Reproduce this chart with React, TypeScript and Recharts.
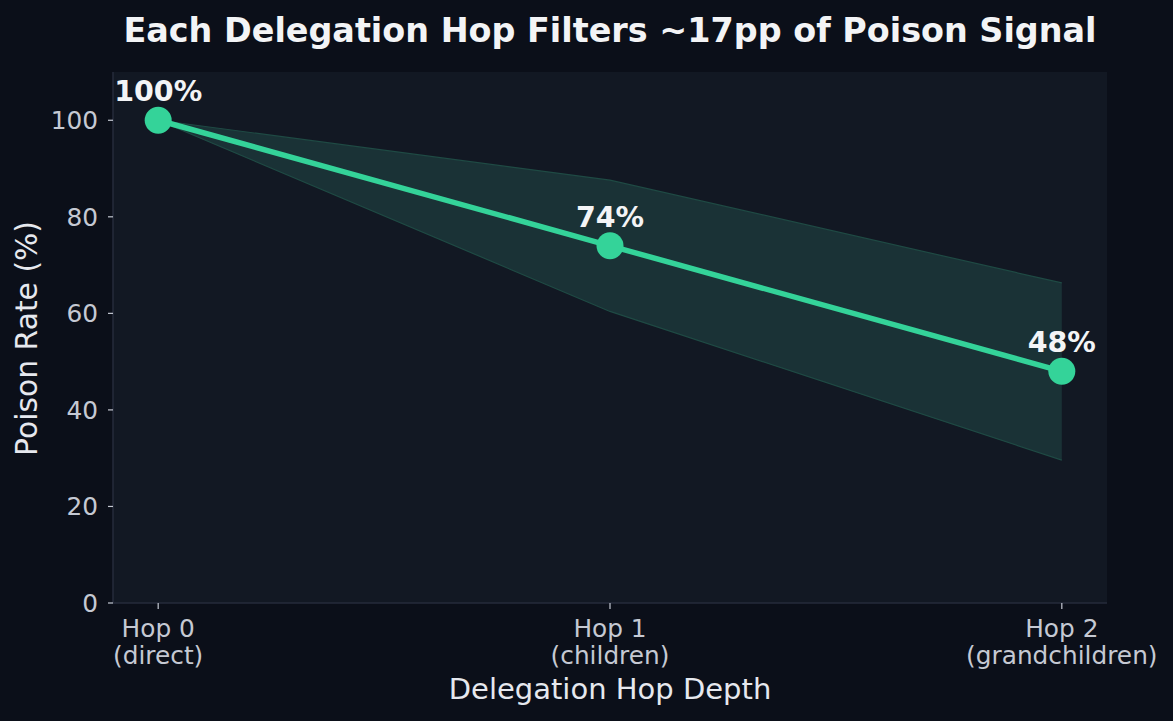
import React from 'react';
import {
  ComposedChart,
  Line,
  Area,
  XAxis,
  YAxis,
  CartesianGrid,
  LabelList,
  Label,
} from 'recharts';

const hops = [0, 1, 2];
const hopNames = ['Hop 0', 'Hop 1', 'Hop 2'];
const hopDescs = ['(direct)', '(children)', '(grandchildren)'];
const poisonRate = [100, 74, 48];
const ciLow = [100, 60.4, 29.6];
const ciHigh = [100, 87.6, 66.3];
const yTicks = [0, 20, 40, 60, 80, 100];

const data = hops.map((h, i) => ({
  hop: h,
  rate: poisonRate[i],
  band: [ciLow[i], ciHigh[i]],
}));

const FONT = '"DejaVu Sans", sans-serif';
const BG = '#0b0f19';
const PLOT_BG = '#121823';
const GREEN = '#34d399';
const TICK_COLOR = '#c5c9d3';
const LABEL_COLOR = '#e6e8ee';

const XTick = (props: any) => {
  const { x, y, payload } = props;
  const i = hops.indexOf(payload.value);
  return (
    <text x={x} textAnchor="middle" fontFamily={FONT} fontSize={24.8} fill={TICK_COLOR}>
      <tspan x={x} y={y + 28}>{hopNames[i]}</tspan>
      <tspan x={x} y={y + 54.5}>{hopDescs[i]}</tspan>
    </text>
  );
};

const PointLabel = (props: any) => {
  const { x, y, value } = props;
  return (
    <text
      x={x}
      y={y - 19}
      textAnchor="middle"
      fontFamily={FONT}
      fontWeight="bold"
      fontSize={28.5}
      fill="#f3f4f6"
    >
      {`${value}%`}
    </text>
  );
};

export default function App() {
  return (
    <div
      style={{
        position: 'fixed',
        left: 0,
        top: 0,
        width: 1173,
        height: 721,
        background: BG,
        overflow: 'hidden',
      }}
    >
      <ComposedChart
        width={1173}
        height={721}
        data={data}
        margin={{ top: 72, right: 66, bottom: 58, left: 0 }}
      >
        <CartesianGrid fill={PLOT_BG} stroke="none" horizontal={false} vertical={false} />
        <XAxis
          type="number"
          dataKey="hop"
          domain={[-0.1, 2.1]}
          ticks={hops}
          allowDataOverflow
          height={60}
          tickSize={6}
          tickMargin={0}
          tickLine={{ stroke: TICK_COLOR, strokeWidth: 1.2 }}
          axisLine={{ stroke: '#262b3b', strokeWidth: 1.5 }}
          tick={<XTick />}
          interval={0}
        >
          <Label
            content={() => (
              <text
                x={610}
                y={699}
                textAnchor="middle"
                fontFamily={FONT}
                fontSize={29}
                fill={LABEL_COLOR}
              >
                Delegation Hop Depth
              </text>
            )}
          />
        </XAxis>
        <YAxis
          type="number"
          domain={[0, 110]}
          ticks={yTicks}
          allowDataOverflow
          width={113}
          tickSize={5}
          tickMargin={10}
          tickLine={{ stroke: TICK_COLOR, strokeWidth: 1.2 }}
          axisLine={{ stroke: '#262b3b', strokeWidth: 1.5 }}
          tick={{ fill: TICK_COLOR, fontSize: 24.8, fontFamily: FONT }}
          interval={0}
        >
          <Label
            content={() => (
              <text
                x={37}
                y={338.5}
                transform="rotate(-90, 37, 338.5)"
                textAnchor="middle"
                fontFamily={FONT}
                fontSize={29.8}
                fill={LABEL_COLOR}
              >
                Poison Rate (%)
              </text>
            )}
          />
        </YAxis>
        <Area
          type="linear"
          dataKey="band"
          fill="#1a3236"
          fillOpacity={1}
          stroke="#1f4a44"
          strokeWidth={1.2}
          isAnimationActive={false}
          activeDot={false}
          dot={false}
        />
        <Line
          type="linear"
          dataKey="rate"
          stroke={GREEN}
          strokeWidth={5.5}
          dot={{ r: 13.5, fill: GREEN, stroke: 'none' }}
          activeDot={false}
          isAnimationActive={false}
        >
          <LabelList dataKey="rate" content={<PointLabel />} />
        </Line>
      </ComposedChart>
      <svg
        width={1173}
        height={721}
        style={{ position: 'absolute', left: 0, top: 0, pointerEvents: 'none' }}
      >
        <text
          x={610}
          y={41.5}
          textAnchor="middle"
          fontFamily={FONT}
          fontWeight="bold"
          fontSize={33.4}
          fill="#f3f4f6"
        >
          Each Delegation Hop Filters ~17pp of Poison Signal
        </text>
      </svg>
    </div>
  );
}
